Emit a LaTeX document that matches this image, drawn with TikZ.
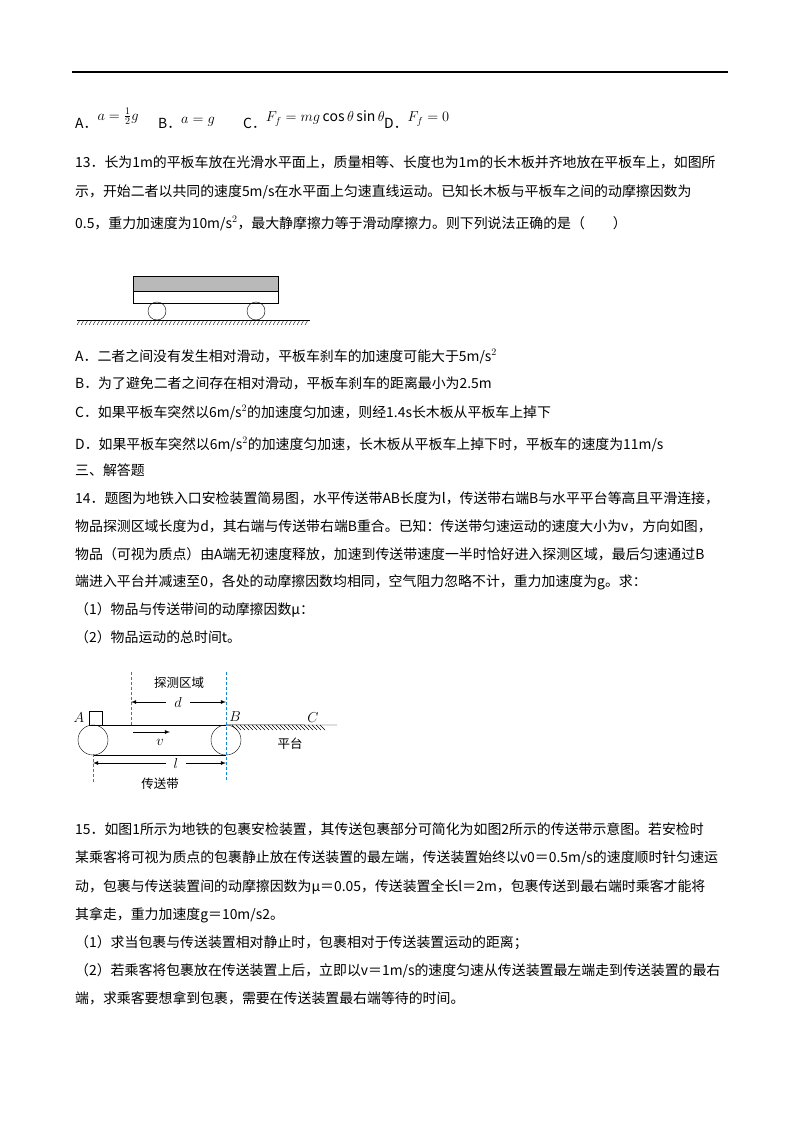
\documentclass[tikz,border=0pt]{standalone}
\usepackage{fontspec}
\setmainfont{Noto Sans CJK SC}
\usetikzlibrary{patterns}
\begin{document}
\begin{tikzpicture}[x=1pt,y=-1pt,
  ln/.style={anchor=base west,inner sep=0,font=\fontsize{13.9}{14}\selectfont},
  lab/.style={inner sep=0,font=\fontsize{12.5}{12}\selectfont},
  il/.style={inner sep=0,font=\fontsize{14}{14}\selectfont},
  cyd/.style={cyan!70!blue,densely dashed,line width=0.6pt},
  arr/.style={-latex,line width=0.8pt}]
\useasboundingbox (0,0) rectangle (800,1132);
\draw[line width=1.4pt] (72,72) -- (728,72);
% options line
\node[ln] (o1) at (75,128) {A．\raisebox{8pt}{\fontsize{14}{14}\selectfont$a=\frac12 g$}};
\node[ln] (o2) at (158,128) {B．\raisebox{5pt}{\fontsize{14}{14}\selectfont$a=g$}};
\node[ln] (o3) at (243,128) {C．\raisebox{6pt}{\fontsize{14}{14}\selectfont$F_f=mg\cos\theta\sin\theta$}};
\node[ln] (o4) at (384,128) {D．\raisebox{6pt}{\fontsize{14}{14}\selectfont$F_f=0$}};
% Q13
\node[ln] (a1) at (75,167) {13．长为1m的平板车放在光滑水平面上，质量相等、长度也为1m的长木板并齐地放在平板车上，如图所};
\node[ln] (a2) at (75,196) {示，开始二者以共同的速度5m/s在水平面上匀速直线运动。已知长木板与平板车之间的动摩擦因数为};
\node[ln] (a3) at (75,228) {0.5，重力加速度为10m/s$^2$，最大静摩擦力等于滑动摩擦力。则下列说法正确的是（\quad\quad）};
% figure 1
\draw[fill=gray!55] (133,276) rectangle (278,291);
\draw (133,291) rectangle (278,303);
\node[draw,circle,minimum size=18pt,inner sep=0] (w1) at (157,311) {};
\node[draw,circle,minimum size=18pt,inner sep=0] (w2) at (256,311) {};
\draw (77,320) -- (310,320);
\foreach \i in {0,...,57} \draw[line width=0.4pt] (80+4*\i,320) -- (77+4*\i,325);
% options 13
\node[ln] at (75,361) {A．二者之间没有发生相对滑动，平板车刹车的加速度可能大于5m/s$^2$};
\node[ln] at (75,388) {B．为了避免二者之间存在相对滑动，平板车刹车的距离最小为2.5m};
\node[ln] at (75,417) {C．如果平板车突然以6m/s$^2$的加速度匀加速，则经1.4s长木板从平板车上掉下};
\node[ln] at (75,449) {D．如果平板车突然以6m/s$^2$的加速度匀加速，长木板从平板车上掉下时，平板车的速度为11m/s};
\node[ln] at (75,475) {三、解答题};
\node[ln] at (75,503) {14．题图为地铁入口安检装置简易图，水平传送带AB长度为l，传送带右端B与水平平台等高且平滑连接，};
\node[ln] at (75,531) {物品探测区域长度为d，其右端与传送带右端B重合。已知：传送带匀速运动的速度大小为v，方向如图，};
\node[ln] at (75,559) {物品（可视为质点）由A端无初速度释放，加速到传送带速度一半时恰好进入探测区域，最后匀速通过B};
\node[ln] at (75,586) {端进入平台并减速至0，各处的动摩擦因数均相同，空气阻力忽略不计，重力加速度为g。求：};
\node[ln] at (75,614) {（1）物品与传送带间的动摩擦因数μ：};
\node[ln] at (75,642) {（2）物品运动的总时间t。};
% figure 2
\node[draw,circle,minimum size=30pt,inner sep=0] (L) at (93,740) {};
\node[draw,circle,minimum size=30pt,inner sep=0] (R) at (226,740) {};
\draw (L.north) -- (R.north);
\draw (L.south) -- (R.south);
\draw (R.north) -- (337,725);
\foreach \i in {0,...,22} \draw[line width=0.4pt] (232+4*\i,725) -- (237+4*\i,730);
\draw (89,711) rectangle (102,725);
\node[il] (A) at (79,718) {$A$};
\node[il] (B) at (235,717) {$B$};
\node[il] (C) at (313,718) {$C$};
\node[lab] (pt) at (290,744) {平台};
\coordinate (d1) at (131,672); \coordinate (d2) at (131,725);
\coordinate (e1) at (226,672); \coordinate (e2) at (226,782);
\coordinate (f1) at (93,754); \coordinate (f2) at (93,782);
\draw[cyd] (d1) -- (d2); \draw[cyd] (e1) -- (e2); \draw[cyd] (f1) -- (f2);
\node[lab] (tc) at (179,683) {探测区域};
\node[il] (d) at (178,702) {$d$};
\draw[arr] ([xshift=-8pt]d.west) -- (131,702);
\draw[arr] ([xshift=8pt]d.east) -- (226,702);
\node[il] (v) at (160,742) {$v$};
\coordinate (v1) at (133,732); \coordinate (v2) at (170,732);
\draw[arr] (v1) -- (v2);
\node[il] (l) at (176,763) {$l$};
\draw[arr] ([xshift=-8pt]l.west) -- (93,763);
\draw[arr] ([xshift=8pt]l.east) -- (226,763);
\node[lab] (cs) at (160,784) {传送带};
% Q15
\node[ln] at (75,834) {15．如图1所示为地铁的包裹安检装置，其传送包裹部分可简化为如图2所示的传送带示意图。若安检时};
\node[ln] at (75,862) {某乘客将可视为质点的包裹静止放在传送装置的最左端，传送装置始终以v0＝0.5m/s的速度顺时针匀速运};
\node[ln] at (75,891) {动，包裹与传送装置间的动摩擦因数为μ＝0.05，传送装置全长l＝2m，包裹传送到最右端时乘客才能将};
\node[ln] at (75,919) {其拿走，重力加速度g＝10m/s2。};
\node[ln] at (75,947) {（1）求当包裹与传送装置相对静止时，包裹相对于传送装置运动的距离；};
\node[ln] at (75,975) {（2）若乘客将包裹放在传送装置上后，立即以v＝1m/s的速度匀速从传送装置最左端走到传送装置的最右};
\node[ln] at (75,1003) {端，求乘客要想拿到包裹，需要在传送装置最右端等待的时间。};
\end{tikzpicture}
\end{document}
